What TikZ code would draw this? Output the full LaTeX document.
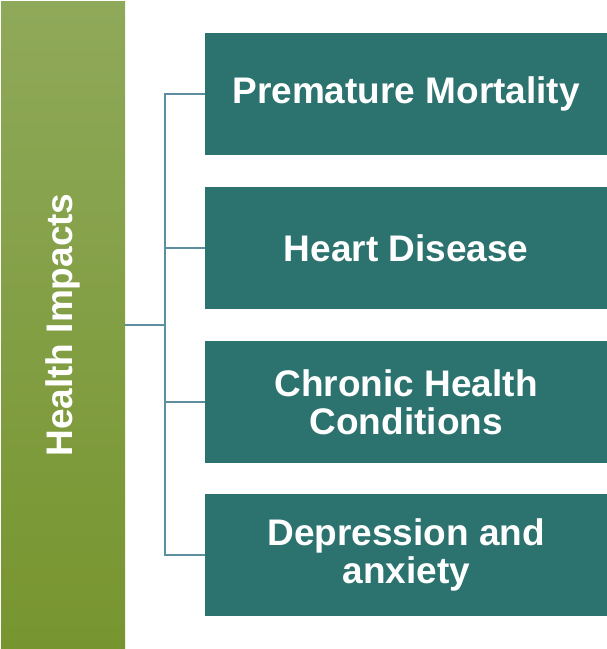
\documentclass[tikz,border=0pt]{standalone}
\usepackage{fontspec}
\setmainfont{Liberation Sans}
\definecolor{barTop}{HTML}{8FA95A}
\definecolor{barBot}{HTML}{77952F}
\definecolor{boxc}{HTML}{2C7370}
\definecolor{linec}{HTML}{5D8FA0}
\begin{document}
\begin{tikzpicture}[x=1pt,y=-1pt,
  item/.style={fill=boxc,draw=none,minimum width=402pt,minimum height=122pt,inner sep=0pt,
    text=white,font=\fontsize{37}{38}\selectfont\bfseries,align=center,anchor=north west},
  conn/.style={draw=linec,line width=1.6pt}]
\useasboundingbox (0,0) rectangle (607,649);
\shade[top color=barTop,bottom color=barBot,middle color=barBot!50!barTop] (1,1) rectangle (125,648);
\node[font=\fontsize{37}{38}\selectfont\bfseries,text=white,rotate=90] (bar) at (63,325) {Health Impacts};
\coordinate (barR) at (125,325);
\coordinate (spine) at (165,325);
\node[item] (b1) at (205,33) {Premature Mortality};
\node[item] (b2) at (205,187) {Heart Disease};
\node[item] (b3) at (205,341) {Chronic Health\\Conditions};
\node[item] (b4) at (205,494) {Depression and\\anxiety};
\draw[conn] (barR) -- (spine);
\draw[conn] (b1.west) -| (spine) |- (b4.west);
\draw[conn] (b2.west) -- (b2.west -| spine);
\draw[conn] (b3.west) -- (b3.west -| spine);
\end{tikzpicture}
\end{document}
